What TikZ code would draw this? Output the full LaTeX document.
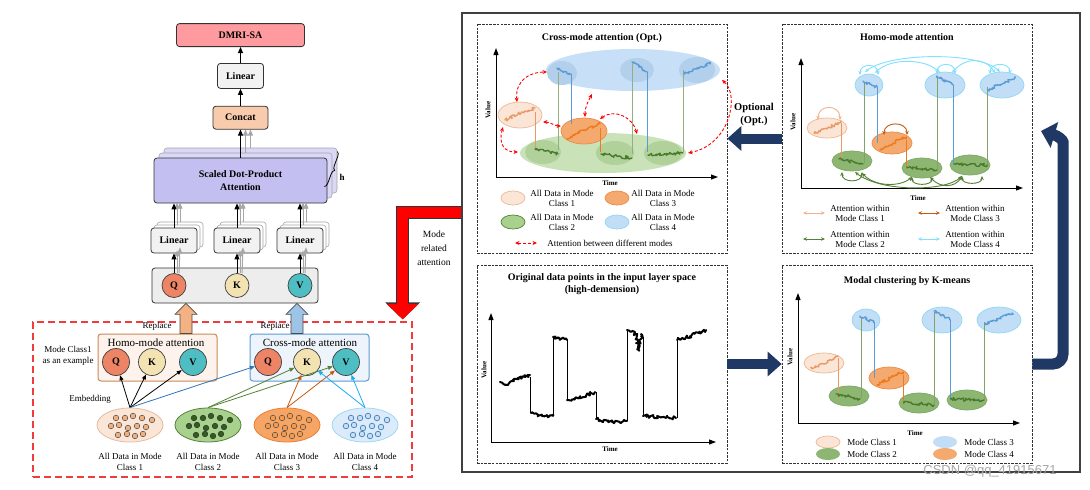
\documentclass[tikz,border=0pt]{standalone}
\usepackage{fontspec}
\setmainfont{Liberation Serif}
\newfontfamily\wmfont{Liberation Sans}
\usepackage{tikz}
\usetikzlibrary{arrows.meta, positioning, calc, shapes.geometric, backgrounds,
                decorations.pathmorphing, decorations.pathreplacing}
\definecolor{outfill}{HTML}{FF9A9E}
\definecolor{linfill}{HTML}{F2F2F2}
\definecolor{catfill}{HTML}{F8CBAD}
\definecolor{sdpafill}{HTML}{C3BFF0}
\definecolor{ghostsdpa}{HTML}{DAD7F7}
\definecolor{qkvfill}{HTML}{EDEDED}
\definecolor{qcol}{HTML}{EE8466}
\definecolor{kcol}{HTML}{F3E3B3}
\definecolor{vcol}{HTML}{4FBEC2}
\definecolor{homofill}{HTML}{FDF3EC}
\definecolor{homodraw}{HTML}{C98A58}
\definecolor{crossfill}{HTML}{EEF4FB}
\definecolor{crossdraw}{HTML}{5B9BD5}
\definecolor{replor}{HTML}{F4B183}
\definecolor{replbl}{HTML}{9DC3E6}
\definecolor{reddash}{HTML}{F03C3C}
\definecolor{navy}{HTML}{203864}
\definecolor{d1fill}{HTML}{FBE5D6}
\definecolor{d1draw}{HTML}{E6BC9E}
\definecolor{d1dot}{HTML}{F2B07E}
\definecolor{d2fill}{HTML}{A9D18E}
\definecolor{d2draw}{HTML}{548235}
\definecolor{d2dot}{HTML}{2F5F1B}
\definecolor{d3fill}{HTML}{F7A565}
\definecolor{d3draw}{HTML}{ED7D31}
\definecolor{d3dot}{HTML}{F79A4C}
\definecolor{d4fill}{HTML}{DCEBFA}
\definecolor{d4draw}{HTML}{9FD8F5}
\definecolor{d4dot}{HTML}{C9DDF5}
\definecolor{c1fill}{HTML}{FBE5D6}
\definecolor{c1draw}{HTML}{EDB894}
\definecolor{c1line}{HTML}{E89A66}
\definecolor{c2fill}{HTML}{8DB672}
\definecolor{c2draw}{HTML}{7FA863}
\definecolor{c2line}{HTML}{4A7A2C}
\definecolor{c3fill}{HTML}{F4A96E}
\definecolor{c3draw}{HTML}{ED8A45}
\definecolor{c3line}{HTML}{EE7A1E}
\definecolor{c4fill}{HTML}{C2DDF6}
\definecolor{c4draw}{HTML}{8ED8F5}
\definecolor{c4line}{HTML}{5B9BD5}
\definecolor{bigblue}{HTML}{C8E0F7}
\definecolor{inblue}{HTML}{B2CFEC}
\definecolor{biggreen}{HTML}{C9E2B8}
\definecolor{ingreen}{HTML}{B0D29A}
\definecolor{arc1}{HTML}{F0B48C}
\definecolor{arc2}{HTML}{548235}
\definecolor{arc3}{HTML}{C55A11}
\definecolor{arc4}{HTML}{80E0FF}
\definecolor{embblue}{HTML}{2E75B6}
\definecolor{embgreen}{HTML}{548235}
\definecolor{emborange}{HTML}{C55A11}
\definecolor{embcyan}{HTML}{1AAEF0}

% dots inside a data ellipse
\newcommand{\datadots}[2]{%
  \foreach \dx/\dy in {-14/-7,-5/-7,3/-9,12/-7,22/-5,-19/1,-11/0,-2/3,7/1,16/2,
                       -12/10,-3/9,5/11,13/9}
    \draw[#2] ($(#1)+(\dx,\dy)$) circle (2.8pt);}

% hollow block arrow pointing up: fill, x, bottom, top
\newcommand{\blockup}[4]{%
  \filldraw[fill=#1, draw=black!70, line width=0.6pt] let \p1=(#3), \p2=(#4) in
    (#2pt-6pt,\y1) -- (#2pt-6pt,\y2-11pt) -- (#2pt-11pt,\y2-11pt) -- (#2pt,\y2)
    -- (#2pt+11pt,\y2-11pt) -- (#2pt+6pt,\y2-11pt) -- (#2pt+6pt,\y1) -- cycle;}

% clustered series (used for K-means and homo-mode panels)
\newcommand{\modeplot}{%
  \draw[ax] (798,423) -- (798,293);
  \draw[ax] (798,423) -- (1020,423);
  \node[axlbl, rotate=90] at (790,357) {Value};
  \node[axlbl] at (915,433) {Time};
  \draw[e1] (824,363) ellipse [x radius=20pt, y radius=10pt];
  \draw[e3] (889,378) ellipse [x radius=20pt, y radius=11pt];
  \draw[e2] (849,396) ellipse [x radius=20pt, y radius=10pt];
  \draw[e2] (919,403) ellipse [x radius=20pt, y radius=10pt];
  \draw[e2] (967,400) ellipse [x radius=20pt, y radius=10pt];
  \draw[e4] (866,320) ellipse [x radius=14pt, y radius=11pt];
  \draw[e4] (942,320) ellipse [x radius=20pt, y radius=13pt];
  \draw[e4] (999,320) ellipse [x radius=22pt, y radius=13pt];
  \draw[link, c1line] (838,358) -- (838,394);
  \draw[link, c2line!70] (861,398) -- (861,318);
  \draw[link, c4line] (874,322) -- (874,378);
  \draw[link, c3line] (903,375) -- (903,402);
  \draw[link, c2line!70] (934,404) -- (934,312);
  \draw[link, c4line] (950,320) -- (950,400);
  \draw[link, c2line!70] (984,400) -- (984,322);
  \draw[sq, c1line] (811,368) -- (824,364) -- (838,356);
  \draw[sq, c2line] (836,394) -- (860,399);
  \draw[sq, c4line] (860,316) -- (874,322);
  \draw[sq, c3line] (877,385) -- (890,378) -- (903,372);
  \draw[sq, c2line] (904,402) -- (934,405);
  \draw[sq, c4line] (934,311) -- (950,320);
  \draw[sq, c2line] (951,399) -- (984,400);
  \draw[sq, c4line] (985,325) -- (1012,313);
}

\begin{document}
\pgfmathsetseed{11}
\begin{tikzpicture}[
    x=1pt, y=-1pt,
    every node/.style={font=\fontsize{9}{10}\selectfont},
    blk/.style={rectangle, draw=black!80, rounded corners=3pt, line width=0.8pt,
                align=center, font=\bfseries\fontsize{10}{13}\selectfont},
    lin/.style={blk, fill=linfill, minimum width=46pt, minimum height=25pt},
    ghost/.style={rectangle, rounded corners=3pt, draw=black!35, fill=white,
                  line width=0.6pt, minimum width=46pt, minimum height=25pt},
    ghostbig/.style={rectangle, rounded corners=3pt, draw=black!35, fill=ghostsdpa,
                  line width=0.6pt, minimum width=173pt, minimum height=45pt},
    tok/.style={circle, draw=black!75, line width=0.7pt, minimum size=24pt,
                inner sep=0pt, font=\bfseries\fontsize{10}{12}\selectfont},
    tokb/.style={tok, minimum size=27pt},
    arr/.style={-{Triangle[length=6pt,width=5pt]}, line width=1pt},
    garr/.style={arr, draw=black!35},
    emb/.style={-{Triangle[length=5pt,width=4pt]}, line width=0.8pt},
    dat/.style={ellipse, minimum width=66pt, minimum height=34pt, inner sep=0pt,
                line width=0.8pt},
    navyarr/.style={navy, line width=10pt, -{Triangle[length=14pt,width=24pt]}},
    panel/.style={draw=black!80, dash pattern=on 2.5pt off 1.2pt, line width=0.7pt},
    ttl/.style={font=\bfseries\fontsize{10}{12.5}\selectfont, align=center},
    lbl/.style={font=\fontsize{9}{11}\selectfont, align=center},
    axlbl/.style={font=\bfseries\fontsize{7}{8}\selectfont},
    ax/.style={-{Triangle[length=7pt,width=5pt]}, line width=1pt},
    sq/.style={decorate, decoration={random steps, segment length=1.2pt,
               amplitude=1.6pt}, line width=1.4pt, line join=round, line cap=round},
    ser/.style={decorate, decoration={random steps, segment length=1.4pt,
               amplitude=1.8pt}, line width=2pt, line join=round, line cap=round},
    e1/.style={fill=c1fill, draw=c1draw, line width=0.7pt},
    e2/.style={fill=c2fill, draw=c2draw, line width=0.7pt},
    e3/.style={fill=c3fill, draw=c3draw, line width=0.7pt},
    e4/.style={fill=c4fill, draw=c4draw, line width=0.7pt},
    link/.style={line width=0.7pt},
    redarr/.style={{Stealth[length=4.5pt,width=4pt]}-{Stealth[length=4.5pt,width=4pt]},
                   red, dash pattern=on 3pt off 2pt, line width=0.9pt},
    twoarr/.style={{Stealth[length=4pt,width=3.5pt]}-{Stealth[length=4pt,width=3.5pt]},
                   line width=0.9pt}
]
\begin{scope}[on background layer]
  \fill[white] (0,0) rectangle (1090,490);
\end{scope}
\useasboundingbox (0,0) rectangle (1090,490);

% Multi-head attention stack
\node[blk, fill=sdpafill, minimum width=173pt, minimum height=45pt] (sdpa)
    at (240.5,180.5) {Scaled Dot-Product\\Attention};
\node[blk, fill=catfill, minimum width=55pt, minimum height=23pt,
      above=28pt of sdpa] (concat) {Concat};
\node[lin, above=17pt of concat] (lout) {Linear};
\node[blk, fill=outfill, minimum width=128pt, minimum height=23pt,
      above=16pt of lout] (dmri) {DMRI-SA};
\node[lin] (lq) at (174,240.5) {Linear};
\node[lin] (lk) at (237,240.5) {Linear};
\node[lin] (lv) at (300,240.5) {Linear};
\node[blk, fill=qkvfill, minimum width=166pt, minimum height=35pt] (qkv)
    at (235,285.5) {};
\node[tok, fill=qcol] (q) at (174,285.5) {Q};
\node[tok, fill=kcol] (k) at (237,285.5) {K};
\node[tok, fill=vcol] (v) at (300,285.5) {V};

\begin{scope}[on background layer]
  \foreach \n in {lq,lk,lv}{
    \node[ghost] at ([shift={(6pt,6pt)}]\n.center) {};
    \node[ghost] at ([shift={(3pt,3pt)}]\n.center) {};
  }
  \node[ghostbig] at ([shift={(10pt,10pt)}]sdpa.center) {};
  \node[ghostbig] at ([shift={(5pt,5pt)}]sdpa.center) {};
\end{scope}

\foreach \n/\m in {q/lq,k/lk,v/lv}{
  \draw[garr] ([xshift=5pt]\n.north) -- ([shift={(6pt,6pt)}]\m.south);
  \draw[garr] ([xshift=3pt]\n.north) -- ([shift={(3pt,3pt)}]\m.south);
  \draw[arr] (\n) -- (\m);
  \draw[garr] ([shift={(6pt,6pt)}]\m.north) -- ++(0,-19);
  \draw[garr] ([shift={(3pt,3pt)}]\m.north) -- ++(0,-22);
  \draw[arr] (\m.north) -- (\m.north |- sdpa.south);
}
\draw[garr] ([shift={(10pt,10pt)}]sdpa.north) -- ++(0,-18);
\draw[garr] ([shift={(5pt,5pt)}]sdpa.north) -- ++(0,-23);
\draw[arr] (sdpa) -- (concat);
\draw[arr] (concat) -- (lout);
\draw[arr] (lout) -- (dmri);
\draw[line width=0.8pt, decorate, decoration={brace, amplitude=4pt}]
    ([shift={(10pt,6pt)}]sdpa.north east) -- ([shift={(-3pt,-6pt)}]sdpa.east);
\node[font=\bfseries\fontsize{9}{10}\selectfont] (hlbl) at (342,177) {h};

% Mode related attention block
\node[draw=reddash, dash pattern=on 7pt off 4pt, line width=1.3pt,
      minimum width=379pt, minimum height=155pt] (redbox) at (222.5,399.5) {};
\node[draw=homodraw, fill=homofill, rounded corners=3pt, line width=1pt,
      minimum width=119pt, minimum height=47pt] (hbox) at (157.5,357.5) {};
\node[draw=crossdraw, fill=crossfill, rounded corners=3pt, line width=1pt,
      minimum width=119pt, minimum height=47pt] (cbox) at (309.5,357.5) {};
\node[font=\fontsize{11}{12}\selectfont] (htitle) at (156,343) {Homo-mode attention};
\node[font=\fontsize{11}{12}\selectfont] (ctitle) at (310,343) {Cross-mode attention};
\node[tokb, fill=qcol] (hq) at (116,362) {Q};
\node[tokb, fill=kcol] (hk) at (152,362) {K};
\node[tokb, fill=vcol] (hv) at (193,362) {V};
\node[tokb, fill=qcol] (cq) at (268,362) {Q};
\node[tokb, fill=kcol] (ck) at (307,362) {K};
\node[tokb, fill=vcol] (cv) at (346,362) {V};
\node[lbl] (example) at (68,356) {Mode Class1\\as an example};
\node[lbl] (embed) at (90,399) {Embedding};

\node[dat, fill=d1fill, draw=d1draw] (d1) at (130,425) {};
\node[dat, fill=d2fill, draw=d2draw] (d2) at (208,425) {};
\node[dat, fill=d3fill, draw=d3draw] (d3) at (287,425) {};
\node[dat, fill=d4fill, draw=d4draw] (d4) at (365,425) {};
\datadots{d1}{fill=d1dot, draw=black!70, line width=0.5pt}
\datadots{d2}{fill=d2dot, draw=black!80, line width=0.5pt}
\datadots{d3}{fill=d3dot, draw=black!70, line width=0.5pt}
\datadots{d4}{fill=d4dot, draw=embblue, line width=0.6pt}
\node[lbl, below=7pt of d1] {All Data in Mode\\Class 1};
\node[lbl, below=7pt of d2] {All Data in Mode\\Class 2};
\node[lbl, below=7pt of d3] {All Data in Mode\\Class 3};
\node[lbl, below=7pt of d4] {All Data in Mode\\Class 4};

\foreach \t in {hq,hk,hv} \draw[emb] (d1.north) -- (\t);
\draw[emb, embblue] (d1.north) -- (cq);
\draw[emb, embgreen] (d2.north) -- (ck);
\draw[emb, embgreen] (d2.north) -- (cv);
\draw[emb, emborange] (d3.north) -- (ck);
\draw[emb, emborange] (d3.north) -- (cv);
\draw[emb, embcyan] (d4.north) -- (ck);
\draw[emb, embcyan] (d4.north) -- (cv);

% Replace arrows
\blockup{replor}{186}{hbox.north}{qkv.south}
\blockup{replbl}{297}{cbox.north}{qkv.south}
\node[lbl] (rep1) at (157,326) {Replace};
\node[lbl] (rep2) at (275,326) {Replace};

% Right frame and panels
\node[draw=black!75, line width=1.3pt, minimum width=618pt, minimum height=459pt]
    (frame) at (771,242.5) {};
\node[panel, minimum width=250pt, minimum height=229pt] (cross) at (602,138.5) {};
\node[panel, minimum width=250pt, minimum height=229pt] (homo) at (907,138.5) {};
\node[panel, minimum width=250pt, minimum height=198pt] (orig) at (602,364) {};
\node[panel, minimum width=250pt, minimum height=198pt] (clus) at (907,364) {};
\node[ttl, below=6pt of cross.north] {Cross-mode attention (Opt.)};
\node[ttl, below=6pt of homo.north] {Homo-mode attention};
\node[ttl, below=5pt of orig.north] {Original data points in the input layer space\\(high-demension)};
\node[ttl, below=8pt of clus.north] {Modal clustering by K-means};

% Mode related attention arrow
\draw[line width=12.5pt, black!80, -{Triangle[length=17pt,width=34pt]}]
    ([yshift=30pt]frame.west) -| ([xshift=-10pt,yshift=2pt]redbox.north east);
\draw[line width=10.5pt, red, -{Triangle[length=15.5pt,width=31pt]}]
    ([yshift=30pt]frame.west) -| ([xshift=-10pt,yshift=2pt]redbox.north east);
\node[lbl, font=\fontsize{9.5}{14}\selectfont] (mra) at (434,248) {Mode\\related\\attention};

% Original data points
\draw[ax] (491,442) -- (491,313);
\draw[ax] (491,442) -- (716,442);
\node[axlbl, rotate=90] at (484,370) {Value};
\node[axlbl] at (610,449) {Time};
\draw[line width=0.6pt] (530,377) -- (530,413) (553,416) -- (553,337)
    (567,340) -- (567,400) (596,392) -- (596,418) (627,421) -- (627,330)
    (643,337) -- (643,415) (677,418) -- (677,340);
\draw[ser] (500,382) -- (508,385) -- (518,378) -- (530,375);
\draw[ser] (531,413) -- (542,416) -- (553,416);
\draw[ser] (553,337) -- (567,340);
\draw[ser] (567,400) -- (580,397) -- (595,392);
\draw[ser] (596,419) -- (612,422) -- (627,421);
\draw[ser] (627,330) -- (636,334) -- (639,350) -- (641,334) -- (643,337);
\draw[ser] (643,416) -- (660,417) -- (676,418);
\draw[ser] (677,340) -- (690,336) -- (706,330);

% Modal clustering
\modeplot
\draw[e1] (828,442) ellipse [x radius=12pt, y radius=6pt];
\fill[c4fill] (945,442) ellipse [x radius=12pt, y radius=6pt];
\fill[c2fill] (828,454) ellipse [x radius=12pt, y radius=6pt];
\fill[c3fill] (945,454) ellipse [x radius=12pt, y radius=6pt];
\node[lbl] at (872,442) {Mode Class 1};
\node[lbl] at (989,442) {Mode Class 3};
\node[lbl] at (872,454) {Mode Class 2};
\node[lbl] at (989,454) {Mode Class 4};

% Homo-mode attention
\begin{scope}[shift={(3,-235)}]
  \modeplot
\end{scope}
\draw[twoarr, arc1] (818,120) .. controls (818,104) and (840,104) .. (840,120);
\draw[twoarr, arc3] (884,135) .. controls (884,121) and (907,121) .. (907,135);
\draw[twoarr, arc4] (860,75) .. controls (860,63) and (878,63) .. (878,75);
\draw[twoarr, arc4] (937,74) .. controls (937,62) and (955,62) .. (955,74);
\draw[twoarr, arc4] (990,74) .. controls (990,62) and (1010,62) .. (1010,74);
\draw[twoarr, arc4] (875,73) .. controls (890,58) and (925,58) .. (940,73);
\draw[twoarr, arc4] (952,73) .. controls (965,57) and (985,57) .. (995,73);
\draw[twoarr, arc4] (865,72) .. controls (890,52) and (980,52) .. (1000,72);
\draw[twoarr, arc2] (842,172) .. controls (842,183) and (862,183) .. (862,172);
\draw[twoarr, arc2] (862,173) .. controls (875,187) and (900,187) .. (912,177);
\draw[twoarr, arc2] (855,172) .. controls (880,192) and (945,192) .. (962,176);
\draw[twoarr, arc2] (912,177) .. controls (912,186) and (932,186) .. (932,177);
\draw[twoarr, arc2] (930,177) .. controls (940,188) and (955,188) .. (962,176);
\draw[twoarr, arc2] (962,176) .. controls (962,185) and (982,185) .. (982,176);
\draw[twoarr, arc1] (803,213) -- (825,213);
\draw[twoarr, arc3] (918,213) -- (940,213);
\draw[twoarr, arc2] (803,239) -- (825,239);
\draw[twoarr, arc4] (918,239) -- (940,239);
\node[lbl, font=\fontsize{9}{10}\selectfont] at (860,213) {Attention within\\Mode Class 1};
\node[lbl, font=\fontsize{9}{10}\selectfont] at (975,213) {Attention within\\Mode Class 3};
\node[lbl, font=\fontsize{9}{10}\selectfont] at (860,239) {Attention within\\Mode Class 2};
\node[lbl, font=\fontsize{9}{10}\selectfont] at (975,239) {Attention within\\Mode Class 4};

% Cross-mode attention
\draw[ax] (496,177) -- (496,48);
\draw[ax] (496,177) -- (718,177);
\node[axlbl, rotate=90] at (488,110) {Value};
\node[axlbl] at (610,183) {Time};
\fill[bigblue] (633,70) ellipse [x radius=87pt, y radius=21pt];
\fill[inblue] (562,73) ellipse [x radius=15pt, y radius=12pt];
\fill[inblue] (637,70) ellipse [x radius=17pt, y radius=12pt];
\fill[inblue] (697,70) ellipse [x radius=18pt, y radius=13pt];
\fill[biggreen] (603,153) ellipse [x radius=83pt, y radius=20pt];
\fill[ingreen] (543,152) ellipse [x radius=18pt, y radius=12pt];
\fill[ingreen] (615,153) ellipse [x radius=19pt, y radius=12pt];
\fill[ingreen] (663,153) ellipse [x radius=19pt, y radius=12pt];
\draw[e1] (520,115) ellipse [x radius=22pt, y radius=13pt];
\draw[e3] (584,131) ellipse [x radius=23pt, y radius=13pt];
\draw[link, c1line] (535,112) -- (535,148);
\draw[link, c2line!60] (558,150) -- (558,72);
\draw[link, c4line] (571,74) -- (571,124);
\draw[link, c3line] (600,128) -- (600,152);
\draw[link, c2line!60] (632,154) -- (632,62);
\draw[link, c4line] (647,72) -- (647,152);
\draw[link, c2line!60] (683,152) -- (683,70);
\draw[sq, c1line] (505,120) -- (518,114) -- (535,108);
\draw[sq, c3line] (567,139) -- (584,130) -- (600,124);
\draw[sq, c4line] (557,68) -- (571,74);
\draw[sq, c4line] (632,62) -- (647,72);
\draw[sq, c4line] (684,74) -- (698,68) -- (710,64);
\draw[sq, c2line] (535,149) -- (558,154);
\draw[sq, c2line] (601,154) -- (632,158);
\draw[sq, c2line] (648,155) -- (683,153);
\draw[redarr] (517,102) .. controls (515,80) and (530,72) .. (547,72);
\draw[redarr] (503,127) .. controls (498,145) and (505,152) .. (518,152);
\draw[redarr] (543,122) .. controls (550,122) and (555,126) .. (561,126);
\draw[redarr] (585,117) .. controls (585,106) and (589,100) .. (592,94);
\draw[redarr] (600,119) .. controls (615,108) and (633,118) .. (637,134);
\draw[redarr] (722,80) .. controls (740,95) and (730,145) .. (688,153);
\draw[e1] (513,198) ellipse [x radius=12pt, y radius=7pt];
\draw[e3] (617,198) ellipse [x radius=12pt, y radius=7pt];
\draw[fill=d2fill, draw=embgreen, line width=0.7pt] (513,222) ellipse [x radius=12pt, y radius=7pt];
\draw[e4] (617,222) ellipse [x radius=12pt, y radius=7pt];
\node[lbl, font=\fontsize{9}{10}\selectfont] at (562,198) {All Data in Mode\\Class 1};
\node[lbl, font=\fontsize{9}{10}\selectfont] at (663,198) {All Data in Mode\\Class 3};
\node[lbl, font=\fontsize{9}{10}\selectfont] at (562,222) {All Data in Mode\\Class 2};
\node[lbl, font=\fontsize{9}{10}\selectfont] at (663,222) {All Data in Mode\\Class 4};
\draw[redarr] (515,243) -- (537,243);
\node[lbl] at (610,243) {Attention between different modes};

% Navy arrows
\node[ttl, font=\bfseries\fontsize{10.5}{13}\selectfont] (opt) at (754,114) {Optional\\(Opt.)};
\draw[navyarr] (homo.west) -- (cross.east);
\draw[navyarr] (orig.east) -- (clus.west);
\coordinate (hook) at (1041,131);
\draw[navy, line width=11pt, -{Triangle[length=14pt,width=26pt]}, rounded corners=10pt]
    (clus.east) -| (1063,152) .. controls (1063,140) and (1058,136) .. (hook);

\node[font=\wmfont\fontsize{13}{14}\selectfont, text=black!35] (wm) at (990,471) {CSDN @qq\_41915671};
\end{tikzpicture}
\end{document}
